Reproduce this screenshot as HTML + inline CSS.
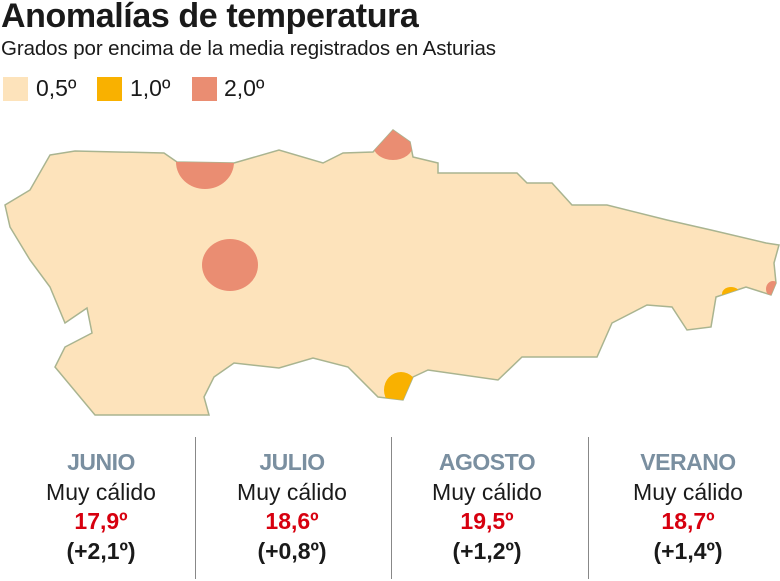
<!DOCTYPE html>
<html><head><meta charset="utf-8"><style>
body{margin:0;width:780px;height:581px;background:#fff;position:relative;overflow:hidden;font-family:"Liberation Sans",sans-serif;color:#1a1a1a}
.t{position:absolute;white-space:nowrap}
.col{position:absolute;top:448px;width:190px;text-align:center;font-size:23px;line-height:29.5px}
.m{color:#7a8fa0;font-weight:bold;letter-spacing:-0.5px}
.r{color:#d7000f;font-weight:bold}
.b{font-weight:bold}
.v{position:absolute;top:437px;width:1px;height:142px;background:#888}
.sq{position:absolute;top:77px;width:25px;height:24px}
</style></head><body>
<div class="t" style="left:1px;top:-3px;font-size:34px;font-weight:bold;letter-spacing:-0.4px">Anomalías de temperatura</div>
<div class="t" style="left:1px;top:37px;font-size:20.5px;letter-spacing:-0.1px">Grados por encima de la media registrados en Asturias</div>
<div class="sq" style="left:3px;background:#fde3bb"></div>
<div class="t" style="left:36px;top:75px;font-size:23px">0,5º</div>
<div class="sq" style="left:97px;background:#f9b100"></div>
<div class="t" style="left:130px;top:75px;font-size:23px">1,0º</div>
<div class="sq" style="left:192px;background:#ea8d72"></div>
<div class="t" style="left:224px;top:75px;font-size:23px">2,0º</div>
<svg style="position:absolute;left:0;top:0" width="780" height="430">
<defs><clipPath id="c"><polygon points="50,155 75,151 164,153 177,162 234,163 279,150 323,163 343,153 373,152 393,130 410,142 413,157 438,163 438,173 517,173 527,183 552,183 572,205 607,205 667,220 711,230 766,243 779,245 774,263 776,283 771,295 746,287 716,297 711,327 687,330 672,307 647,305 612,323 597,357 522,357 498,380 428,370 413,377 403,400 378,397 348,367 313,358 279,368 234,363 214,377 204,397 209,415 95,415 55,367 65,347 92,333 87,308 65,323 50,287 30,260 10,227 5,205 30,190"/></clipPath></defs>
<polygon points="50,155 75,151 164,153 177,162 234,163 279,150 323,163 343,153 373,152 393,130 410,142 413,157 438,163 438,173 517,173 527,183 552,183 572,205 607,205 667,220 711,230 766,243 779,245 774,263 776,283 771,295 746,287 716,297 711,327 687,330 672,307 647,305 612,323 597,357 522,357 498,380 428,370 413,377 403,400 378,397 348,367 313,358 279,368 234,363 214,377 204,397 209,415 95,415 55,367 65,347 92,333 87,308 65,323 50,287 30,260 10,227 5,205 30,190" fill="#fde3bb" stroke="#a9b490" stroke-width="1.5"/>
<g clip-path="url(#c)">
<ellipse cx="205" cy="162" rx="29" ry="27" fill="#ea8d72"/>
<ellipse cx="393" cy="145" rx="20" ry="15" fill="#ea8d72"/>
<ellipse cx="230" cy="265" rx="28" ry="26" fill="#ea8d72"/>
<ellipse cx="401" cy="390" rx="17" ry="18" fill="#f9b100"/>
<ellipse cx="731" cy="294" rx="9" ry="7" fill="#f9b100"/>
<ellipse cx="773" cy="289" rx="7" ry="8" fill="#ea8d72"/>
</g></svg>
<div class="v" style="left:195px"></div><div class="v" style="left:391px"></div><div class="v" style="left:588px"></div>
<div class="col" style="left:6px"><div class="m">JUNIO</div><div>Muy cálido</div><div class="r">17,9º</div><div class="b">(+2,1º)</div></div>
<div class="col" style="left:197px"><div class="m">JULIO</div><div>Muy cálido</div><div class="r">18,6º</div><div class="b">(+0,8º)</div></div>
<div class="col" style="left:392px"><div class="m">AGOSTO</div><div>Muy cálido</div><div class="r">19,5º</div><div class="b">(+1,2º)</div></div>
<div class="col" style="left:593px"><div class="m">VERANO</div><div>Muy cálido</div><div class="r">18,7º</div><div class="b">(+1,4º)</div></div>
</body></html>
